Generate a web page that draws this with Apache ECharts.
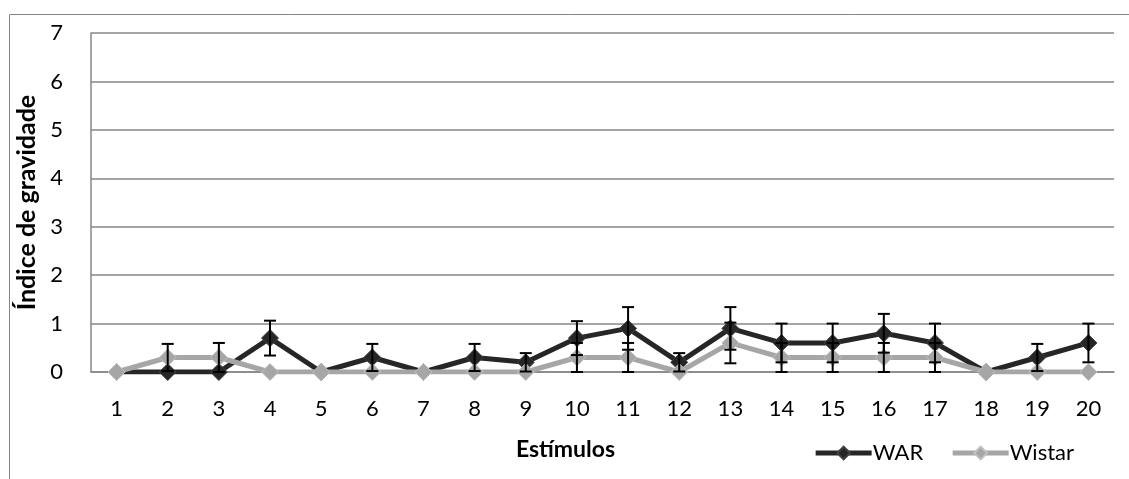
<!DOCTYPE html>
<html><head><meta charset="utf-8">
<script src="https://cdn.jsdelivr.net/npm/echarts@6/dist/echarts.min.js"></script>
<style>html,body{margin:0;padding:0;background:#fff}#c{width:1129px;height:479px}</style>
</head><body><div id="c"></div>
<script>
const categories = ['1','2','3','4','5','6','7','8','9','10','11','12','13','14','15','16','17','18','19','20'];
const warValues    = [0,0,0,0.7,0,0.3,0,0.3,0.2,0.7,0.9,0.2,0.9,0.6,0.6,0.8,0.6,0,0.3,0.6];
const warErrors    = [0,0,0,0.36,0,0.28,0,0.28,0.19,0.35,0.44,0.19,0.44,0.4,0.4,0.4,0.4,0,0.28,0.4];
const wistarValues = [0,0.3,0.3,0,0,0,0,0,0,0.3,0.3,0,0.6,0.3,0.3,0.3,0.3,0,0,0];
const wistarErrors = [0,0.28,0.3,0,0,0,0,0,0,0.3,0.3,0,0.42,0.3,0.3,0.3,0.3,0,0,0];
const yTicks = [0,1,2,3,4,5,6,7];

const FONT = 'Lato';
function errData(vals, errs){
  const out=[];
  vals.forEach((v,i)=>{ if(errs[i]>0) out.push([i, v-errs[i], v+errs[i]]); });
  return out;
}
function errRender(params, api){
  const x = api.value(0);
  const lo = api.coord([x, api.value(1)]);
  const hi = api.coord([x, api.value(2)]);
  const w = 6;
  const st = {stroke:'#000', lineWidth:2};
  return {type:'group', children:[
    {type:'line', shape:{x1:lo[0],y1:lo[1],x2:hi[0],y2:hi[1]}, style:st},
    {type:'line', shape:{x1:hi[0]-w,y1:hi[1],x2:hi[0]+w,y2:hi[1]}, style:st},
    {type:'line', shape:{x1:lo[0]-w,y1:lo[1],x2:lo[0]+w,y2:lo[1]}, style:st}
  ]};
}
const chart = echarts.init(document.getElementById('c'), null, {renderer:'canvas'});
chart.setOption({
  animation:false,
  graphic:[{type:'rect', left:7, top:12, shape:{width:1200, height:600}, style:{fill:'none', stroke:'#868686', lineWidth:1}, silent:true, z:-10}],
  grid:{left:91, right:15, top:33, bottom:107},
  legend:{
    right:50, top:437, itemWidth:56, itemHeight:16, itemGap:27,
    lineStyle:{width:5},
    textStyle:{fontFamily:FONT, fontSize:22, color:'#000', padding:[0,0,0,-4]},
    data:['WAR','Wistar']
  },
  xAxis:{
    type:'category', data:categories, boundaryGap:true,
    name:'Estímulos', nameLocation:'middle', nameGap:66,
    nameTextStyle:{fontFamily:FONT, fontSize:23, fontWeight:'bold', color:'#000', padding:[0,74,0,0]},
    axisLine:{lineStyle:{color:'#868686', width:1.5}},
    axisTick:{show:false},
    axisLabel:{fontFamily:FONT, fontSize:22, color:'#000', margin:26}
  },
  yAxis:{
    type:'value', min:0, max:7, interval:1,
    name:'Índice de gravidade', nameLocation:'middle', nameGap:49, nameRotate:90,
    nameTextStyle:{fontFamily:FONT, fontSize:25, fontWeight:'bold', color:'#000'},
    axisLine:{show:true, lineStyle:{color:'#868686', width:1.5}},
    axisTick:{show:false},
    splitLine:{lineStyle:{color:'#868686', width:1.5}},
    axisLabel:{fontFamily:FONT, fontSize:22, color:'#000', margin:28,
      formatter:v=>yTicks.includes(v)?String(v):''}
  },
  series:[
    {name:'WAR', type:'line', data:warValues, symbol:'diamond', symbolSize:17,
     lineStyle:{color:'#262626', width:5}, itemStyle:{color:'#262626', borderColor:'#404040', borderWidth:1}, z:2},
    {name:'Wistar', type:'line', data:wistarValues, symbol:'diamond', symbolSize:17,
     lineStyle:{color:'#a6a6a6', width:5}, itemStyle:{color:'#a6a6a6', borderColor:'#c0c0c0', borderWidth:1}, z:3},
    {type:'custom', name:'errWAR', data:errData(warValues,warErrors), renderItem:errRender, z:5, silent:true},
    {type:'custom', name:'errWistar', data:errData(wistarValues,wistarErrors), renderItem:errRender, z:5, silent:true}
  ]
});
</script></body></html>
